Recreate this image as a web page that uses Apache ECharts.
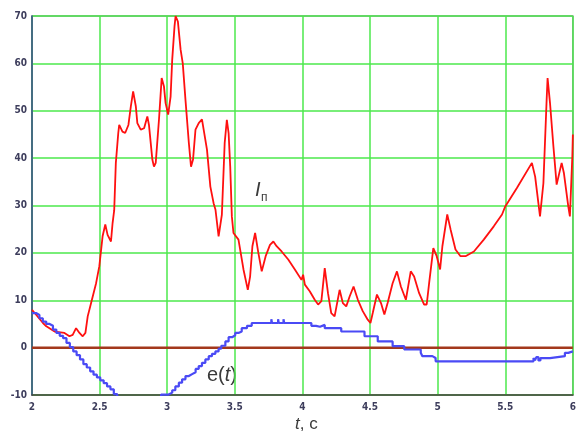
<!DOCTYPE html>
<html>
<head>
<meta charset="utf-8">
<script src="https://cdn.jsdelivr.net/npm/echarts@6/dist/echarts.min.js"></script>
<style>
  html, body { margin: 0; padding: 0; background: #ffffff; }
  #chart { width: 579px; height: 434px; }
</style>
</head>
<body>
<div id="chart"></div>
<script>
// Axis ticks
const xTicks = [2, 2.5, 3, 3.5, 4, 4.5, 5, 5.5, 6];
const yTicks = [-10, 0, 10, 20, 30, 40, 50, 60, 70];

// Current I_п over time
const tCurrent = [
  2.000, 2.081, 2.106, 2.167, 2.240, 2.277, 2.301, 2.326, 2.351, 2.375,
  2.395, 2.412, 2.437, 2.474, 2.498, 2.522, 2.542, 2.559, 2.584, 2.596,
  2.608, 2.620, 2.638, 2.645, 2.669, 2.689, 2.713, 2.731, 2.748, 2.768,
  2.779, 2.804, 2.829, 2.853, 2.865, 2.890, 2.902, 2.915, 2.939, 2.959,
  2.976, 2.988, 3.007, 3.025, 3.037, 3.054, 3.062, 3.079, 3.099, 3.115,
  3.135, 3.160, 3.176, 3.191, 3.209, 3.233, 3.257, 3.270, 3.294, 3.319,
  3.343, 3.357, 3.380, 3.404, 3.425, 3.441, 3.454, 3.466, 3.478, 3.490,
  3.527, 3.564, 3.596, 3.613, 3.630, 3.650, 3.674, 3.699, 3.728, 3.760,
  3.785, 3.809, 3.846, 3.895, 3.944, 3.993, 4.005, 4.018, 4.054, 4.091,
  4.116, 4.140, 4.165, 4.189, 4.213, 4.238, 4.275, 4.299, 4.324, 4.349,
  4.378, 4.410, 4.446, 4.483, 4.503, 4.520, 4.551, 4.581, 4.606, 4.630,
  4.667, 4.699, 4.728, 4.765, 4.801, 4.826, 4.863, 4.900, 4.919, 4.937,
  4.968, 4.993, 5.018, 5.035, 5.071, 5.096, 5.132, 5.169, 5.206, 5.268,
  5.341, 5.415, 5.476, 5.500, 5.586, 5.697, 5.721, 5.757, 5.782, 5.806,
  5.813, 5.831, 5.856, 5.880, 5.917, 5.934, 5.966, 5.978, 5.996, 6.000
];
const iCurrent = [
  8.0, 5.2, 4.5, 3.4, 3.1, 2.4, 2.7, 4.1, 3.1, 2.4,
  3.1, 6.6, 9.4, 13.6, 17.2, 23.5, 26.0, 23.8, 22.4, 26.3,
  29.0, 39.0, 45.3, 47.0, 45.6, 45.3, 47.0, 50.9, 54.1, 50.9,
  47.4, 46.0, 46.3, 48.8, 47.0, 39.7, 38.2, 39.0, 48.1, 56.9,
  55.1, 51.6, 49.2, 53.0, 60.8, 67.8, 70.0, 68.8, 62.9, 60.0,
  52.3, 43.2, 38.2, 39.7, 46.0, 47.4, 48.2, 47.8, 41.8, 34.0,
  30.5, 29.1, 23.5, 28.0, 43.2, 48.1, 45.3, 38.2, 27.7, 24.2,
  22.8, 16.5, 12.2, 15.0, 21.4, 24.2, 20.0, 16.1, 19.3, 21.7,
  22.4, 21.4, 20.3, 18.6, 16.5, 14.3, 15.4, 13.3, 11.9, 10.1,
  9.1, 9.8, 16.8, 11.5, 7.3, 6.6, 12.2, 9.4, 8.7, 10.8,
  12.9, 10.1, 7.7, 5.9, 5.2, 7.3, 11.2, 9.4, 7.0, 9.4,
  13.6, 16.1, 12.9, 10.1, 16.1, 15.0, 11.5, 9.1, 9.1, 13.6,
  21.0, 19.3, 16.5, 21.4, 28.1, 24.9, 20.7, 19.3, 19.3, 20.3,
  22.8, 25.6, 28.1, 29.8, 33.7, 39.0, 36.1, 27.7, 34.7, 52.3,
  56.9, 51.6, 42.5, 34.4, 39.0, 36.8, 29.8, 27.7, 40.4, 45.0
];

// Error signal e(t); each level starts at the given time
const tError = [
  2.000, 2.030, 2.055, 2.080, 2.105, 2.130, 2.155, 2.180, 2.205, 2.230,
  2.255, 2.280, 2.305, 2.330, 2.355, 2.380, 2.405, 2.430, 2.455, 2.480,
  2.505, 2.530, 2.555, 2.580, 2.605, 2.630, 2.700, 2.780, 2.860, 2.930,
  2.955, 3.010, 3.037, 3.060, 3.086, 3.110, 3.135, 3.160, 3.184, 3.210,
  3.233, 3.257, 3.282, 3.307, 3.331, 3.356, 3.380, 3.400, 3.430, 3.454,
  3.480, 3.503, 3.527, 3.551, 3.590, 3.625, 3.770, 3.775, 3.820, 3.825,
  3.860, 3.865, 4.066, 4.100, 4.110, 4.130, 4.165, 4.287, 4.459, 4.557,
  4.667, 4.753, 4.875, 4.887, 4.961, 4.985, 5.709, 5.720, 5.730, 5.745,
  5.760, 5.831, 5.941, 5.966, 6.000
];
const eError = [
  7.3, 6.9, 6.2, 5.5, 5.0, 4.6, 3.8, 3.1, 2.5, 2.0,
  1.0, 0.1, -0.8, -1.6, -2.5, -3.5, -4.2, -5.0, -5.7, -6.3,
  -6.9, -7.5, -8.2, -8.8, -9.8, -10.6, -12.3, -13.3, -12.4, -10.6,
  -9.9, -9.5, -9.0, -8.2, -7.4, -6.7, -6.0, -5.6, -5.2, -4.5,
  -3.9, -3.2, -2.5, -1.8, -1.3, -0.8, -0.2, 0.4, 1.3, 2.2,
  2.6, 3.1, 3.4, 4.1, 4.6, 5.2, 6.0, 5.2, 6.0, 5.2,
  6.0, 5.2, 4.6, 5.0, 4.4, 4.8, 4.1, 3.4, 2.4, 1.3,
  0.3, -0.4, -1.1, -1.8, -2.2, -2.9, -2.2, -2.7, -2.0, -2.7,
  -2.2, -1.8, -1.1, -0.8, -0.8
];

// Zero reference line
const tZero = [2, 6];
const zZero = [0, 0];

const zip = (xs, ys) => xs.map((x, i) => [x, ys[i]]);

const chart = echarts.init(document.getElementById('chart'), null, { renderer: 'canvas' });

const tickFont = {
  color: '#3d3d5c',
  fontSize: 10,
  fontWeight: 'bold',
  fontFamily: 'DejaVu Sans Condensed, DejaVu Sans, sans-serif'
};

chart.setOption({
  animation: false,
  backgroundColor: '#ffffff',
  grid: {
    left: 32, right: 3, top: 16, bottom: 39,
    show: true,
    borderColor: '#8a8a96',
    borderWidth: 1.5
  },
  xAxis: {
    type: 'value',
    min: xTicks[0],
    max: xTicks[xTicks.length - 1],
    interval: 0.5,
    axisLine: { show: true, onZero: false, lineStyle: { color: '#4a4040', width: 1.5 } },
    axisTick: { show: false },
    axisLabel: Object.assign({ margin: 7, formatter: v => String(v) }, tickFont),
    splitLine: { show: true, lineStyle: { color: '#4de84d', width: 1.5 } }
  },
  yAxis: {
    type: 'value',
    min: yTicks[0],
    max: yTicks[yTicks.length - 1],
    interval: 10,
    axisLine: { show: true, onZero: false, lineStyle: { color: '#3b4a8c', width: 1.5 } },
    axisTick: { show: false },
    axisLabel: Object.assign({ margin: 5 }, tickFont),
    splitLine: { show: true, lineStyle: { color: '#4de84d', width: 1.5 } }
  },
  series: [
    {
      name: 'zero',
      type: 'line',
      data: zip(tZero, zZero),
      symbol: 'none',
      silent: true,
      lineStyle: { color: '#a3381c', width: 2.5 },
      z: 2
    },
    {
      name: 'Iп',
      type: 'line',
      data: zip(tCurrent, iCurrent),
      symbol: 'none',
      clip: true,
      lineStyle: { color: '#ff1010', width: 1.8 },
      z: 3
    },
    {
      name: 'e(t)',
      type: 'line',
      step: 'end',
      data: zip(tError, eError),
      symbol: 'none',
      clip: true,
      lineStyle: { color: '#4a4af5', width: 2.2 },
      z: 4
    }
  ],
  graphic: [
    {
      type: 'text',
      left: 255, top: 180,
      style: {
        text: 'I',
        fontFamily: 'Liberation Sans, Arial, sans-serif',
        fontStyle: 'italic',
        fontSize: 20,
        fill: '#3a3a3a'
      }
    },
    {
      type: 'text',
      left: 261, top: 192,
      style: {
        text: 'п',
        fontFamily: 'Liberation Sans, Arial, sans-serif',
        fontSize: 12,
        fill: '#3a3a3a'
      }
    },
    {
      type: 'text',
      left: 207, top: 365,
      style: {
        text: 'e(' + '{i|t}' + ')',
        fontFamily: 'Liberation Sans, Arial, sans-serif',
        fontSize: 20,
        fill: '#3a3a3a',
        rich: {
          i: { fontFamily: 'Liberation Sans, Arial, sans-serif', fontStyle: 'italic', fontSize: 20, fill: '#3a3a3a' }
        }
      }
    },
    {
      type: 'text',
      left: 295, top: 416,
      style: {
        text: '{i|t}, с',
        fontFamily: 'Liberation Sans, Arial, sans-serif',
        fontSize: 17,
        fill: '#3a3a3a',
        rich: {
          i: { fontFamily: 'Liberation Sans, Arial, sans-serif', fontStyle: 'italic', fontSize: 17, fill: '#3a3a3a' }
        }
      }
    }
  ]
});
</script>
</body>
</html>
